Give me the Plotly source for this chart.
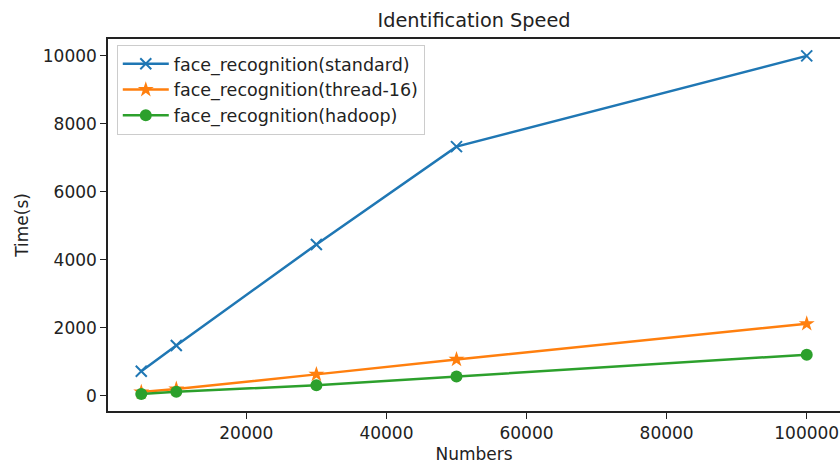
import plotly.graph_objects as go

numbers = [5000, 10000, 30000, 50000, 100000]
standard = [720, 1480, 4450, 7330, 10000]
thread16 = [110, 200, 630, 1070, 2120]
hadoop = [50, 120, 310, 570, 1210]

x_ticks = [20000, 40000, 60000, 80000, 100000]
x_ticklabels = ["20000", "40000", "60000", "80000", "100000"]
y_ticks = [0, 2000, 4000, 6000, 8000, 10000]
y_ticklabels = ["0", "2000", "4000", "6000", "8000", "10000"]

series = [
    ("face_recognition(standard)", standard, "#1f77b4", "x-thin", 11),
    ("face_recognition(thread-16)", thread16, "#ff7f0e", "star", 12),
    ("face_recognition(hadoop)", hadoop, "#2ca02c", "circle", 12),
]

fig = go.Figure()
for name, vals, color, sym, size in series:
    fig.add_trace(go.Scatter(
        x=numbers, y=vals, name=name, mode="lines+markers",
        line=dict(color=color, width=2.5),
        marker=dict(symbol=sym, size=size, color=color,
                    line=dict(color=color, width=2 if sym == "x-thin" else 0)),
    ))

font = "DejaVu Sans"
ink = "#222"
W, H = 850, 465
fig.update_layout(
    width=W, height=H,
    margin=dict(l=108, r=10, t=39, b=54),
    paper_bgcolor="white", plot_bgcolor="white",
    font=dict(family=font, size=17, color=ink),
    title=dict(text="Identification Speed", x=474/W, xanchor="center",
               y=1 - 20/H, yanchor="middle", yref="container",
               font=dict(family=font, size=19.3, color=ink)),
    showlegend=True,
    legend=dict(x=0.012, y=0.984, xanchor="left", yanchor="top",
                bgcolor="rgba(255,255,255,0.8)", bordercolor="#cccccc", borderwidth=1,
                font=dict(family=font, size=17.5, color=ink),
                itemwidth=46, tracegroupgap=0),
)
fig.update_xaxes(
    range=[250, 104750], tickvals=x_ticks, ticktext=x_ticklabels,
    ticks="outside", ticklen=6, tickwidth=1.2, tickcolor=ink,
    showline=True, linecolor=ink, linewidth=1.5, mirror=True,
    showgrid=False, zeroline=False, automargin=False,
    title=dict(text="Numbers", standoff=6, font=dict(family=font, size=17, color=ink)),
    tickfont=dict(family=font, size=17, color=ink),
)
fig.update_yaxes(
    range=[-447.5, 10497.5], tickvals=y_ticks, ticktext=y_ticklabels,
    ticks="outside", ticklen=6, tickwidth=1.2, tickcolor=ink,
    showline=True, linecolor=ink, linewidth=1.5, mirror=True,
    showgrid=False, zeroline=False, automargin=False,
    title=dict(text="Time(s)", standoff=10, font=dict(family=font, size=17, color=ink)),
    tickfont=dict(family=font, size=17, color=ink),
)
fig.write_html(
    "out.html",
    config={"displayModeBar": False},
    post_script="document.body.style.margin='0';document.documentElement.style.overflow='hidden';document.body.style.overflow='hidden';",
)
